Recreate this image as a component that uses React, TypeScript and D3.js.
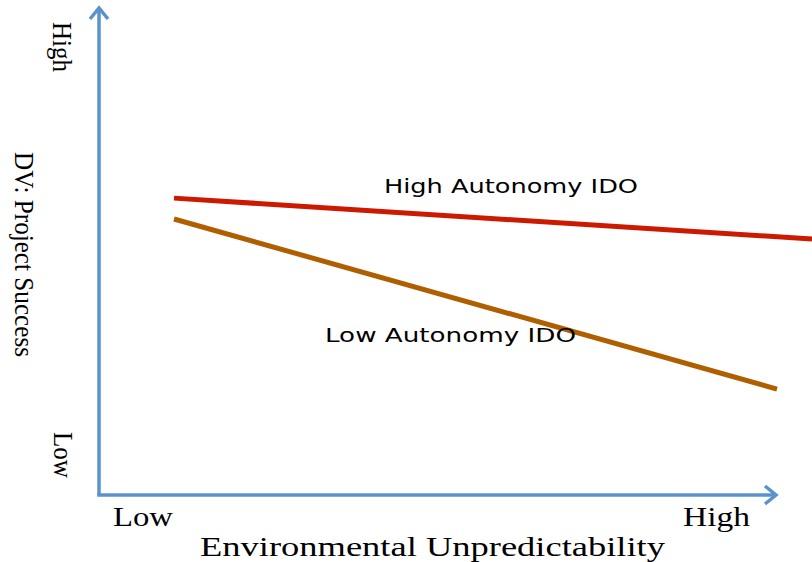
import React from "react";
import * as d3 from "d3";

const xCategories = ["Low", "High"];
const yCategories = ["Low", "High"];
const seriesNames = ["High Autonomy IDO", "Low Autonomy IDO"];
const highAutonomyX = [0, 1.058];
const highAutonomyY = [62.5, 53.9];
const lowAutonomyX = [0, 1];
const lowAutonomyY = [58.1, 22.3];
const xTitle = "Environmental Unpredictability";
const yTitle = "DV: Project Success";

const W = 812, H = 562;
const axisColor = "#5A93CC";

export default function App() {
  const x = d3.scaleLinear().domain([0, 1]).range([174, 777]);
  const y = d3.scaleLinear().domain([0, 100]).range([495, 20]);
  const line = d3.line<[number, number]>().x(d => x(d[0])).y(d => y(d[1]));
  const hi = highAutonomyX.map((v, i) => [v, highAutonomyY[i]] as [number, number]);
  const lo = lowAutonomyX.map((v, i) => [v, lowAutonomyY[i]] as [number, number]);
  const ox = 99, oy = 495;
  const serif = "Liberation Serif, serif";
  const sans = "DejaVu Sans, sans-serif";
  return (
    <svg width={W} height={H} style={{ position: "absolute", left: 0, top: 0 }}>
      <rect width={W} height={H} fill="#fff" />
      <line x1={ox} y1={oy} x2={ox} y2={8} stroke={axisColor} strokeWidth={3.5} />
      <polyline points={`${ox - 9},${19} ${ox},${8} ${ox + 9},${19}`} fill="none" stroke={axisColor} strokeWidth={3.5} />
      <line x1={ox - 1.7} y1={oy} x2={776} y2={oy} stroke={axisColor} strokeWidth={3.5} />
      <polyline points={`765,486 776,495 765,504`} fill="none" stroke={axisColor} strokeWidth={3.5} />
      <path d={line(hi) || ""} stroke="#CC1A00" strokeWidth={5} fill="none" />
      <path d={line(lo) || ""} stroke="#B05F00" strokeWidth={5} fill="none" />
      <text x={384} y={193} fontFamily={sans} fontSize={20} textLength={254} lengthAdjust="spacingAndGlyphs" fill="#000">{seriesNames[0]}</text>
      <text x={325} y={342} fontFamily={sans} fontSize={20} textLength={251} lengthAdjust="spacingAndGlyphs" fill="#000">{seriesNames[1]}</text>
      <text x={113} y={526} fontFamily={serif} fontSize={27} textLength={60} lengthAdjust="spacingAndGlyphs" fill="#000">{xCategories[0]}</text>
      <text x={683} y={526} fontFamily={serif} fontSize={27} textLength={67} lengthAdjust="spacingAndGlyphs" fill="#000">{xCategories[1]}</text>
      <text x={200} y={556} fontFamily={serif} fontSize={27} textLength={465} lengthAdjust="spacingAndGlyphs" fill="#000">{xTitle}</text>
      <text transform="translate(53,22) rotate(90)" fontFamily={serif} fontSize={27} textLength={50} lengthAdjust="spacingAndGlyphs" fill="#000">{yCategories[1]}</text>
      <text transform="translate(54,432) rotate(90)" fontFamily={serif} fontSize={27} textLength={46} lengthAdjust="spacingAndGlyphs" fill="#000">{yCategories[0]}</text>
      <text transform="translate(15,152) rotate(90)" fontFamily={serif} fontSize={27} textLength={205} lengthAdjust="spacingAndGlyphs" fill="#000">{yTitle}</text>
    </svg>
  );
}
